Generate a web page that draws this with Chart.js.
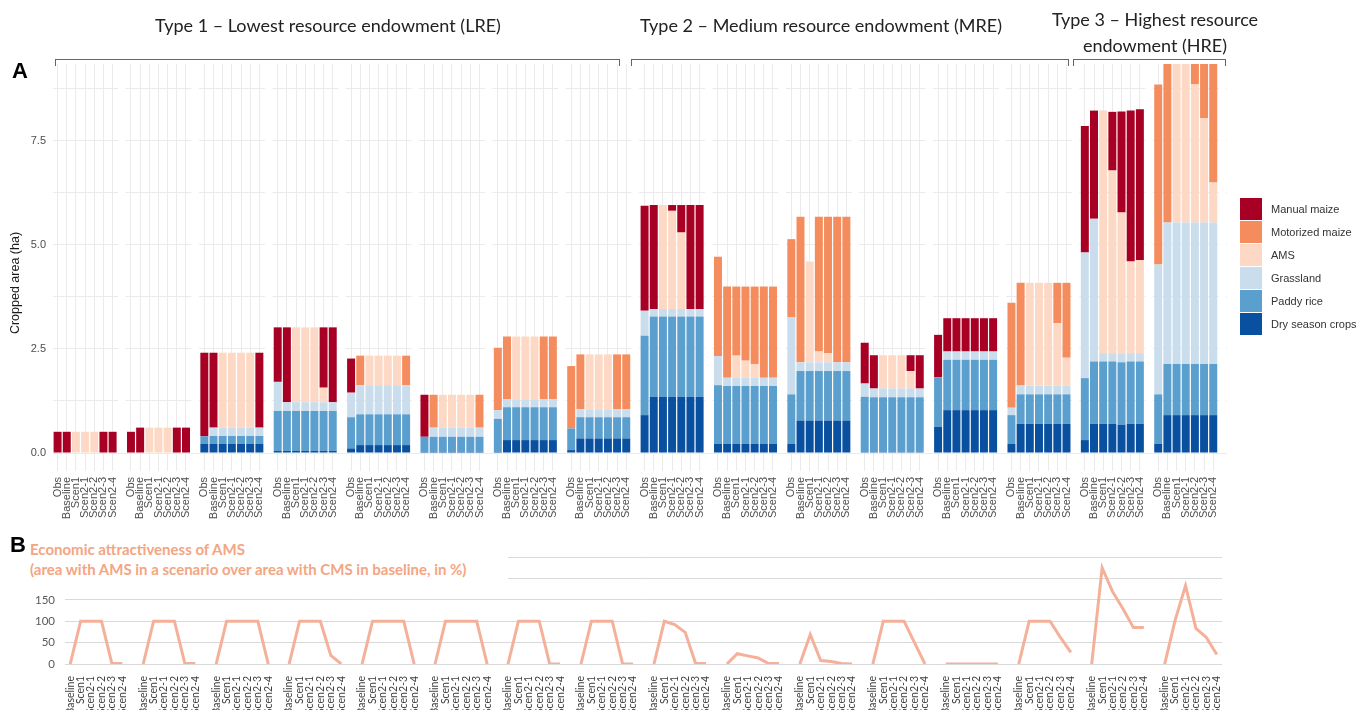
<!DOCTYPE html>
<html>
<head>
<meta charset="utf-8">
<script src="https://cdn.jsdelivr.net/npm/chart.js@4.4.1/dist/chart.umd.min.js"></script>
<style>
  body { margin: 0; background: #fff; width: 1365px; height: 710px; overflow: hidden; position: relative; font-family: Lato, sans-serif; }
  canvas { position: absolute; left: 0; }
  #top { top: 0; }
  #bottom { top: 530px; }
  .type { position: absolute; font-size: 18px; color: #222; text-align: center; line-height: 26px; }
  .bracket { position: absolute; top: 59px; height: 7px; border: 1px solid #666; border-bottom: none; box-sizing: border-box; }
  .panel { position: absolute; font: bold 22px "Liberation Sans", Arial, sans-serif; color: #000; }
  #ytitle { position: absolute; left: 15px; top: 283px; transform: translate(-50%, -50%) rotate(-90deg); white-space: nowrap; font: 12.5px "Liberation Sans", Arial, sans-serif; color: #1a1a1a; }
  #titleB { position: absolute; left: 30px; top: 539px; width: 478px; height: 50px; background: #fff; color: #f4a582; font-weight: bold; font-size: 15px; line-height: 20px; white-space: nowrap; }
  #legend { position: absolute; left: 1240px; top: 197px; font: 11px "Liberation Sans", Arial, sans-serif; color: #333; }
  .item { height: 23px; display: flex; align-items: center; }
  .sw { width: 22px; height: 22px; margin-right: 9px; }
</style>
</head>
<body>
<canvas id="top" width="1365" height="540"></canvas>
<canvas id="bottom" width="1365" height="180"></canvas>

<div class="type" style="left:128px;top:12px;width:400px;">Type 1 – Lowest resource endowment (LRE)</div>
<div class="type" style="left:621px;top:12px;width:400px;">Type 2 – Medium resource endowment (MRE)</div>
<div class="type" style="left:1030px;top:6px;width:250px;">Type 3 – Highest resource<br>endowment (HRE)</div>
<div class="bracket" style="left:55px;width:565px;"></div>
<div class="bracket" style="left:631px;width:438px;"></div>
<div class="bracket" style="left:1073px;width:153px;"></div>
<div class="panel" style="left:12px;top:58px;">A</div>
<div class="panel" style="left:10px;top:532px;">B</div>
<div id="ytitle">Cropped area (ha)</div>
<div id="titleB">Economic attractiveness of AMS<br>(area with AMS in a scenario over area with CMS in baseline, in %)</div>
<div id="legend"></div>

<script>
// Panel A: cropped area (ha) per farm, 7 bars each
const barLabels = ['Obs', 'Baseline', 'Scen1', 'Scen2-1', 'Scen2-2', 'Scen2-3', 'Scen2-4'];
// Panel B: AMS attractiveness (%) per farm, 6 points each
const lineLabels = ['Baseline', 'Scen1', 'Scen2-1', 'Scen2-2', 'Scen2-3', 'Scen2-4'];

// one row per farm (16 farms), values in ha
const dryCrops = [
  [0, 0, 0, 0, 0, 0, 0],
  [0, 0, 0, 0, 0, 0, 0],
  [0.22, 0.22, 0.22, 0.22, 0.22, 0.22, 0.22],
  [0.05, 0.05, 0.05, 0.05, 0.05, 0.05, 0.05],
  [0.11, 0.19, 0.19, 0.19, 0.19, 0.19, 0.19],
  [0.03, 0.03, 0.03, 0.03, 0.03, 0.03, 0.03],
  [0.03, 0.31, 0.31, 0.31, 0.31, 0.31, 0.31],
  [0.07, 0.35, 0.35, 0.35, 0.35, 0.35, 0.35],
  [0.91, 1.35, 1.35, 1.35, 1.35, 1.35, 1.35],
  [0.22, 0.22, 0.22, 0.22, 0.22, 0.22, 0.22],
  [0.22, 0.78, 0.78, 0.78, 0.78, 0.78, 0.78],
  [0.02, 0.02, 0.02, 0.02, 0.02, 0.02, 0.02],
  [0.63, 1.03, 1.03, 1.03, 1.03, 1.03, 1.03],
  [0.22, 0.70, 0.70, 0.70, 0.70, 0.70, 0.70],
  [0.31, 0.70, 0.70, 0.70, 0.68, 0.70, 0.70],
  [0.22, 0.91, 0.91, 0.91, 0.91, 0.91, 0.91],
];
const paddyRice = [
  [0, 0, 0, 0, 0, 0, 0],
  [0, 0, 0, 0, 0, 0, 0],
  [0.18, 0.19, 0.19, 0.19, 0.19, 0.19, 0.19],
  [0.96, 0.96, 0.96, 0.96, 0.96, 0.96, 0.96],
  [0.75, 0.74, 0.74, 0.74, 0.74, 0.74, 0.74],
  [0.36, 0.36, 0.36, 0.36, 0.36, 0.36, 0.36],
  [0.79, 0.79, 0.79, 0.79, 0.79, 0.79, 0.79],
  [0.52, 0.51, 0.51, 0.51, 0.51, 0.51, 0.51],
  [1.91, 1.93, 1.93, 1.93, 1.93, 1.93, 1.93],
  [1.41, 1.39, 1.39, 1.39, 1.39, 1.39, 1.39],
  [1.19, 1.19, 1.19, 1.19, 1.19, 1.19, 1.19],
  [1.33, 1.32, 1.32, 1.32, 1.32, 1.32, 1.32],
  [1.19, 1.21, 1.21, 1.21, 1.21, 1.21, 1.21],
  [0.69, 0.71, 0.71, 0.71, 0.71, 0.71, 0.71],
  [1.49, 1.50, 1.50, 1.50, 1.50, 1.50, 1.50],
  [1.19, 1.23, 1.23, 1.23, 1.23, 1.23, 1.23],
];
const grassland = [
  [0, 0, 0, 0, 0, 0, 0],
  [0, 0, 0, 0, 0, 0, 0],
  [0, 0.20, 0.20, 0.20, 0.20, 0.20, 0.20],
  [0.70, 0.21, 0.21, 0.21, 0.21, 0.21, 0.21],
  [0.59, 0.70, 0.70, 0.70, 0.70, 0.70, 0.70],
  [0, 0.22, 0.22, 0.22, 0.22, 0.22, 0.22],
  [0.21, 0.19, 0.19, 0.19, 0.19, 0.19, 0.19],
  [0, 0.19, 0.19, 0.19, 0.19, 0.19, 0.19],
  [0.60, 0.18, 0.18, 0.18, 0.18, 0.18, 0.18],
  [0.70, 0.20, 0.20, 0.20, 0.20, 0.20, 0.20],
  [1.85, 0.21, 0.21, 0.21, 0.21, 0.21, 0.21],
  [0.32, 0.21, 0.21, 0.21, 0.21, 0.21, 0.21],
  [0, 0.20, 0.20, 0.20, 0.20, 0.20, 0.20],
  [0.18, 0.21, 0.21, 0.21, 0.21, 0.21, 0.21],
  [3.02, 3.43, 0.20, 0.20, 0.20, 0.20, 0.20],
  [3.12, 3.40, 3.40, 3.40, 3.40, 3.40, 3.40],
];
const amsArea = [
  [0, 0, 0.51, 0.51, 0.51, 0, 0],
  [0, 0, 0.61, 0.61, 0.61, 0, 0],
  [0, 0, 1.80, 1.80, 1.80, 1.80, 0],
  [0, 0, 1.80, 1.80, 1.80, 0.35, 0],
  [0, 0, 0.71, 0.71, 0.71, 0.71, 0],
  [0, 0, 0.79, 0.79, 0.79, 0.79, 0],
  [0, 0, 1.51, 1.51, 1.51, 0, 0],
  [0, 0, 1.32, 1.32, 1.32, 0, 0],
  [0, 0, 2.50, 2.36, 1.84, 0, 0],
  [0, 0, 0.53, 0.41, 0.33, 0, 0],
  [0, 0, 2.42, 0.26, 0.22, 0, 0],
  [0, 0, 0.80, 0.80, 0.80, 0.42, 0],
  [0, 0, 0, 0, 0, 0, 0],
  [0, 0, 2.47, 2.47, 2.47, 1.50, 0.67],
  [0, 0, 5.83, 4.39, 3.40, 2.20, 2.24],
  [0, 0, 4.08, 7.30, 3.32, 2.51, 0.96],
];
const motorizedMaize = [
  [0, 0, 0, 0, 0, 0, 0],
  [0, 0, 0, 0, 0, 0, 0],
  [0, 0, 0, 0, 0, 0, 0],
  [0, 0, 0, 0, 0, 0, 0],
  [0, 0.71, 0, 0, 0, 0, 0.71],
  [0, 0.79, 0, 0, 0, 0, 0.79],
  [1.50, 1.51, 0, 0, 0, 1.51, 1.51],
  [1.50, 1.32, 0, 0, 0, 1.32, 1.32],
  [0, 0, 0, 0, 0, 0, 0],
  [2.39, 2.19, 1.66, 1.78, 1.86, 2.19, 2.19],
  [1.88, 3.50, 0, 3.24, 3.28, 3.50, 3.50],
  [0, 0, 0, 0, 0, 0, 0],
  [0, 0, 0, 0, 0, 0, 0],
  [2.52, 2.47, 0, 0, 0, 0.97, 1.80],
  [0, 0, 0, 0, 0, 0, 0],
  [4.33, 4.00, 0, 0, 0.68, 1.49, 3.04],
];
const manualMaize = [
  [0.51, 0.51, 0, 0, 0, 0.51, 0.51],
  [0.51, 0.61, 0, 0, 0, 0.61, 0.61],
  [2.01, 1.80, 0, 0, 0, 0, 1.80],
  [1.31, 1.80, 0, 0, 0, 1.45, 1.80],
  [0.82, 0, 0, 0, 0, 0, 0],
  [1.01, 0, 0, 0, 0, 0, 0],
  [0, 0, 0, 0, 0, 0, 0],
  [0, 0, 0, 0, 0, 0, 0],
  [2.52, 2.50, 0, 0.14, 0.66, 2.50, 2.50],
  [0, 0, 0, 0, 0, 0, 0],
  [0, 0, 0, 0, 0, 0, 0],
  [0.98, 0.80, 0, 0, 0, 0.38, 0.80],
  [1.02, 0.80, 0.80, 0.80, 0.80, 0.80, 0.80],
  [0, 0, 0, 0, 0, 0, 0],
  [3.04, 2.60, 0, 1.41, 2.43, 3.63, 3.62],
  [0, 0, 0, 0, 0, 0, 0],
];

// % of baseline CMS area taken by AMS
const amsAttractiveness = [
  [0, 100, 100, 100, 1, 1],
  [0, 100, 100, 100, 1, 1],
  [0, 100, 100, 100, 100, 0],
  [0, 100, 100, 100, 20, 0],
  [0, 100, 100, 100, 100, 0],
  [0, 100, 100, 100, 100, 0],
  [0, 100, 100, 100, 0, 0],
  [0, 100, 100, 100, 0, 0],
  [0, 100, 92, 74, 1, 1],
  [0, 24, 19, 14, 1, 1],
  [0, 69, 8, 6, 1, 0],
  [0, 100, 100, 100, 50, 0],
  [0, 0, 0, 0, 0, 0],
  [0, 100, 100, 100, 62, 27],
  [0, 225, 169, 129, 85, 85],
  [0, 102, 183, 83, 62, 22],
];

const yMaxA = 9.35;
const yTicksA = [0, 2.5, 5, 7.5];

// one empty slot after every farm keeps the facets apart
function withGaps(rows, gapValue) {
  const out = [];
  rows.forEach((r) => { out.push(...r, gapValue); });
  return out;
}
const labelsA = withGaps(manualMaize.map(() => barLabels), '');
const labelsB = withGaps(amsAttractiveness.map(() => lineLabels), '');
labelsB.pop();
const dataB = withGaps(amsAttractiveness, null);
dataB.pop();

const seriesA = [
  { label: 'Dry season crops', rows: dryCrops, color: '#0a50a0' },
  { label: 'Paddy rice', rows: paddyRice, color: '#5b9fcf' },
  { label: 'Grassland', rows: grassland, color: '#cadded' },
  { label: 'AMS', rows: amsArea, color: '#fdd9c5' },
  { label: 'Motorized maize', rows: motorizedMaize, color: '#f48c5d' },
  { label: 'Manual maize', rows: manualMaize, color: '#a70024' },
];

const gapGrid = (ctx) => (labelsA[ctx.index] === '' ? 'rgba(0,0,0,0)' : '#ebebeb');

const facetGaps = {
  id: 'facetGaps',
  beforeDatasetsDraw(chart) {
    const x = chart.scales.x;
    const area = chart.chartArea;
    const slot = (area.right - area.left) / labelsA.length;
    const c = chart.ctx;
    c.save();
    c.fillStyle = '#fff';
    labelsA.forEach((l, i) => {
      if (l !== '') return;
      const cx = x.getPixelForValue(i);
      c.fillRect(cx - slot * 0.4, area.top, slot * 0.8, area.bottom - area.top);
    });
    c.restore();
  },
};

new Chart(document.getElementById('top'), {
  type: 'bar',
  data: {
    labels: labelsA,
    datasets: seriesA.map((s) => ({
      label: s.label,
      data: withGaps(s.rows, null),
      backgroundColor: s.color,
      borderWidth: 0,
      barPercentage: 0.87,
      categoryPercentage: 1,
      clip: 0,
    })),
  },
  options: {
    responsive: false,
    animation: false,
    layout: { padding: { top: 64, right: 138, left: 0, bottom: 0 } },
    plugins: { legend: { display: false }, tooltip: { enabled: false } },
    scales: {
      x: {
        stacked: true,
        grid: { offset: false, color: gapGrid, tickColor: gapGrid, tickLength: 18 },
        border: { display: false },
        ticks: {
          autoSkip: false, maxRotation: 90, minRotation: 90, padding: 6,
          color: '#4d4d4d', font: { family: 'Liberation Sans', size: 11 },
        },
        afterFit: (s) => { s.height = 87; },
      },
      y: {
        stacked: true,
        min: 0,
        max: yMaxA,
        grid: { color: '#ebebeb', drawTicks: false },
        border: { display: false },
        ticks: {
          stepSize: 1.25, includeBounds: false, padding: 7,
          color: '#4d4d4d', font: { family: 'Liberation Sans', size: 11 },
          callback: (v) => (yTicksA.includes(v) ? v.toFixed(1) : ''),
        },
        afterFit: (s) => { s.width = 53; },
      },
    },
  },
  plugins: [facetGaps],
});

new Chart(document.getElementById('bottom'), {
  type: 'line',
  data: {
    labels: labelsB,
    datasets: [{
      label: 'AMS attractiveness',
      data: dataB,
      borderColor: '#f5b09a',
      borderWidth: 3,
      pointRadius: 0,
      spanGaps: false,
      tension: 0,
    }],
  },
  options: {
    responsive: false,
    animation: false,
    layout: { padding: { top: 27, right: 143, left: 0, bottom: 0 } },
    plugins: { legend: { display: false }, tooltip: { enabled: false } },
    scales: {
      x: {
        offset: true,
        grid: { display: false },
        border: { display: false },
        ticks: {
          autoSkip: false, maxRotation: 90, minRotation: 90, padding: 4,
          color: '#404040', font: { family: 'Lato', size: 10.5 },
        },
        afterFit: (s) => { s.height = 46; },
      },
      y: {
        min: 0,
        max: 250,
        grid: { color: '#d9d9d9', drawTicks: false },
        border: { display: false },
        ticks: {
          stepSize: 50, padding: 10,
          color: '#595959', font: { family: 'Lato', size: 11.5 },
          callback: (v) => (v <= 150 ? v : ''),
        },
        afterFit: (s) => { s.width = 65; },
      },
    },
  },
});

// legend, top item first as in the figure
const legend = document.getElementById('legend');
seriesA.slice().reverse().forEach((s) => {
  const row = document.createElement('div');
  row.className = 'item';
  row.innerHTML = `<span class="sw" style="background:${s.color}"></span>${s.label}`;
  legend.appendChild(row);
});
</script>
</body>
</html>
